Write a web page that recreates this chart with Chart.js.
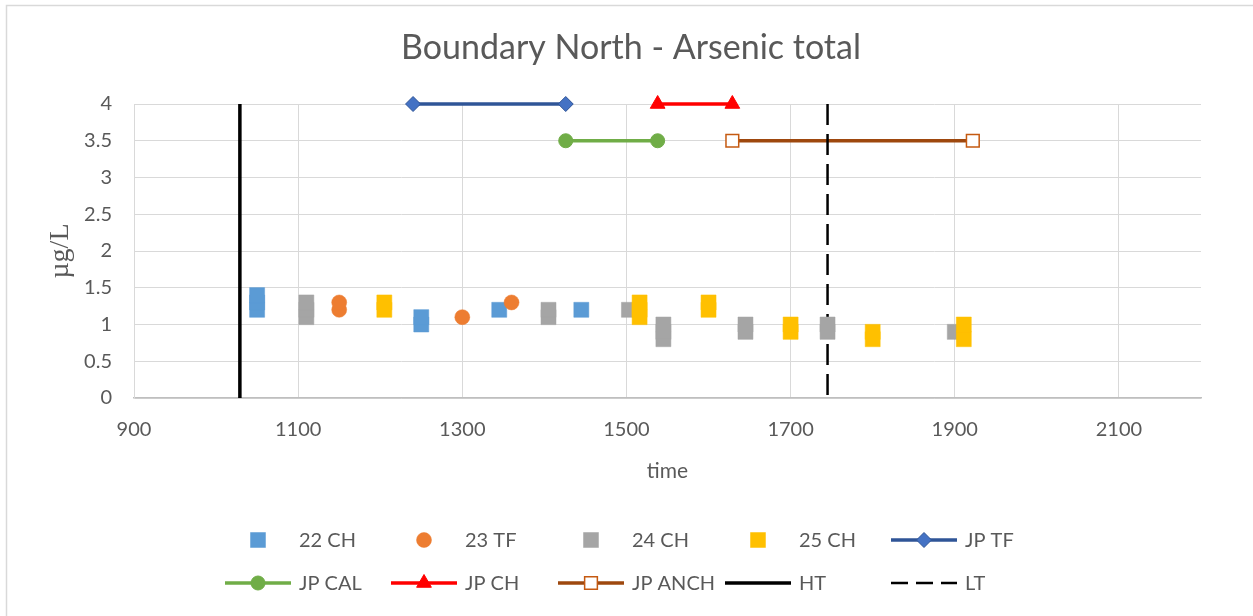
<!DOCTYPE html>
<html>
<head>
<meta charset="utf-8">
<script src="https://cdn.jsdelivr.net/npm/chart.js@4.4.1/dist/chart.umd.min.js"></script>
<style>
html, body { margin: 0; padding: 0; background: #fff; }
#wrap { width: 1253px; height: 616px; position: relative; }
</style>
</head>
<body>
<div id="wrap"><canvas id="asChart"></canvas></div>
<script>
// sample results (time, µg/L)
const ch22Time = [1050, 1050, 1050, 1250, 1250, 1345, 1445];
const ch22Val  = [1.2, 1.3, 1.4, 1.0, 1.1, 1.2, 1.2];
const tf23Time = [1150, 1150, 1300, 1360];
const tf23Val  = [1.2, 1.3, 1.1, 1.3];
const ch24Time = [1110, 1110, 1110, 1405, 1405, 1503, 1545, 1545, 1545, 1645, 1645, 1745, 1745, 1900];
const ch24Val  = [1.1, 1.2, 1.3, 1.1, 1.2, 1.2, 0.8, 0.9, 1.0, 0.9, 1.0, 0.9, 1.0, 0.9];
const ch25Time = [1205, 1205, 1516, 1516, 1516, 1600, 1600, 1700, 1700, 1800, 1800, 1911, 1911];
const ch25Val  = [1.2, 1.3, 1.1, 1.2, 1.3, 1.2, 1.3, 0.9, 1.0, 0.8, 0.9, 0.8, 1.0];

// period bars
const jpTfTime = [1240, 1426];     const jpTfVal = [4, 4];
const jpCalTime = [1426, 1538];    const jpCalVal = [3.5, 3.5];
const jpChTime = [1538, 1629];     const jpChVal = [4, 4];
const jpAnchTime = [1629, 1922];   const jpAnchVal = [3.5, 3.5];

// thresholds (vertical lines)
const htTime = [1029, 1029];  const htVal = [4, 0];
const ltTime = [1745, 1745];  const ltVal = [4, 0];

const yTicks = [0, 0.5, 1, 1.5, 2, 2.5, 3, 3.5, 4];
const xTicks = [900, 1100, 1300, 1500, 1700, 1900, 2100];

const pts = (xs, ys) => xs.map((x, i) => ({ x: x, y: ys[i] }));

const FONT = 'Lato, "Open Sans", sans-serif';
const GREY_TXT = '#595959';

function markerSet(label, xs, ys, color, style, r, order) {
    return {
        label: label,
        data: pts(xs, ys),
        showLine: false,
        clip: false,
        pointStyle: style,
        pointRadius: r,
        pointHoverRadius: r,
        backgroundColor: color,
        borderColor: color,
        pointBorderWidth: 0.5,
        order: order
    };
}

function lineSet(label, xs, ys, color, width, opts) {
    return Object.assign({
        label: label,
        data: pts(xs, ys),
        showLine: true,
        clip: false,
        borderColor: color,
        borderWidth: width,
        backgroundColor: color,
        pointStyle: 'circle',
        pointRadius: 0,
        pointBorderColor: color,
        pointBackgroundColor: color,
        pointBorderWidth: 1
    }, opts);
}

const datasets = [
    markerSet('22 CH', ch22Time, ch22Val, '#5b9bd5', 'rect', 10.6, 4),
    markerSet('23 TF', tf23Time, tf23Val, '#ed7d31', 'circle', 7.5, 3),
    markerSet('24 CH', ch24Time, ch24Val, '#a5a5a5', 'rect', 10.6, 2),
    markerSet('25 CH', ch25Time, ch25Val, '#ffc000', 'rect', 10.6, 1),
    lineSet('JP TF', jpTfTime, jpTfVal, '#2f5597', 3.5, { pointStyle: 'rectRot', pointRadius: 7.5, pointBackgroundColor: '#4472c4', pointBorderColor: '#2f5597', order: 10 }),
    lineSet('JP CAL', jpCalTime, jpCalVal, '#70ad47', 3.5, { pointStyle: 'circle', pointRadius: 7, order: 9 }),
    lineSet('JP CH', jpChTime, jpChVal, '#ff0000', 3.5, { pointStyle: 'triangle', pointRadius: 8.5, order: 8 }),
    lineSet('JP ANCH', jpAnchTime, jpAnchVal, '#9e480e', 3.5, { pointStyle: 'rect', pointRadius: 9, pointBackgroundColor: '#ffffff', pointBorderColor: '#c55a11', pointBorderWidth: 1.5, order: 7 }),
    lineSet('HT', htTime, htVal, '#000000', 3.5, { order: 6 }),
    lineSet('LT', ltTime, ltVal, '#000000', 2.5, { borderDash: [21, 9], order: 5 })
];

// hand-drawn legend in the Excel style, two rows of five entries
const legendPlugin = {
    id: 'excelLegend',
    afterDraw(chart) {
        const ctx = chart.ctx;
        const cols = [258, 424, 591, 758, 924];
        const rows = [540, 583];
        chart.data.datasets.forEach((ds, i) => {
            const cx = cols[i % 5];
            const cy = rows[Math.floor(i / 5)];
            ctx.save();
            if (ds.showLine) {
                ctx.strokeStyle = ds.borderColor;
                ctx.lineWidth = ds.borderWidth;
                ctx.setLineDash(ds.borderDash ? [17, 8] : []);
                ctx.beginPath();
                ctx.moveTo(cx - 33, cy);
                ctx.lineTo(cx + 33, cy);
                ctx.stroke();
                ctx.setLineDash([]);
            }
            if (ds.pointRadius > 0) {
                const r = ds.pointRadius;
                ctx.fillStyle = ds.pointBackgroundColor || ds.backgroundColor;
                ctx.strokeStyle = ds.pointBorderColor || ds.borderColor;
                ctx.lineWidth = ds.pointBorderWidth || 1;
                Chart.helpers.drawPoint(ctx, { pointStyle: ds.pointStyle, radius: r, borderWidth: ctx.lineWidth }, cx, cy);
            }
            ctx.fillStyle = GREY_TXT;
            ctx.font = '20px ' + FONT;
            ctx.textBaseline = 'middle';
            ctx.textAlign = 'left';
            ctx.fillText(ds.label, cx + 41, cy + 1);
            ctx.restore();
        });
    }
};

// outer frame + chart title (title centred on the whole chart object, like Excel)
const framePlugin = {
    id: 'frame',
    beforeDraw(chart) {
        const ctx = chart.ctx;
        ctx.save();
        ctx.fillStyle = '#ffffff';
        ctx.fillRect(0, 0, chart.width, chart.height);
        ctx.strokeStyle = '#d9d9d9';
        ctx.lineWidth = 1.5;
        ctx.strokeRect(6.5, 5.5, 1400, 800);
        ctx.fillStyle = GREY_TXT;
        ctx.font = '34px ' + FONT;
        ctx.textAlign = 'center';
        ctx.textBaseline = 'middle';
        ctx.fillText('Boundary North - Arsenic total', 631, 48);
        ctx.restore();
    }
};

const ctx1 = document.getElementById('asChart').getContext('2d');
const asChart = new Chart(ctx1, {
    type: 'scatter',
    data: { datasets: datasets },
    plugins: [framePlugin, legendPlugin],
    options: {
        responsive: true,
        maintainAspectRatio: false,
        animation: false,
        layout: { padding: { left: 40, right: 52, top: 104, bottom: 128 } },
        plugins: {
            legend: { display: false },
            tooltip: { enabled: false },
            title: { display: false }
        },
        scales: {
            x: {
                type: 'linear',
                min: 900,
                max: 2200,
                afterBuildTicks: (s) => { s.ticks = xTicks.map(v => ({ value: v })); },
                afterFit: (s) => { s.height = 90; },
                ticks: { color: GREY_TXT, font: { family: FONT, size: 20 }, padding: 20, maxRotation: 0, callback: (v) => String(v) },
                grid: { color: '#d9d9d9', lineWidth: 1, drawTicks: false },
                border: { color: '#bfbfbf', width: 1.5 },
                title: { display: true, text: 'time', color: GREY_TXT, font: { family: FONT, size: 21 }, padding: { top: 5 } }
            },
            y: {
                min: 0,
                max: 4,
                afterBuildTicks: (s) => { s.ticks = yTicks.map(v => ({ value: v })); },
                afterFit: (s) => { s.width = 94; },
                ticks: { color: GREY_TXT, font: { family: FONT, size: 20 }, padding: 22, callback: (v) => String(v) },
                grid: { color: '#d9d9d9', lineWidth: 1, drawTicks: false },
                border: { color: '#d9d9d9', width: 1 },
                title: { display: true, text: 'µg/L', color: GREY_TXT, font: { family: '"Liberation Serif", "DejaVu Serif", serif', size: 28 }, padding: { top: 4 } }
            }
        }
    }
});
</script>
</body>
</html>
